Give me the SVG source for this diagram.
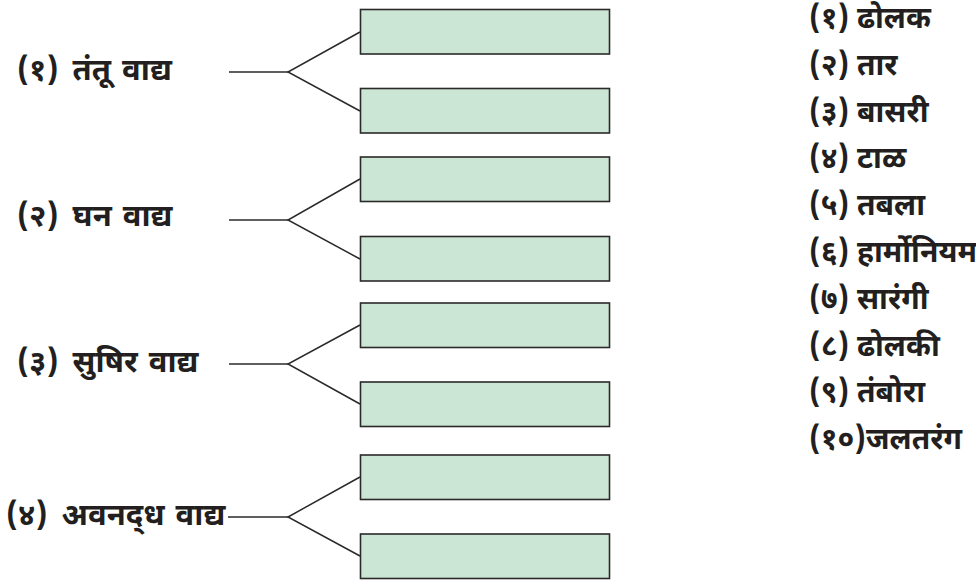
<svg xmlns="http://www.w3.org/2000/svg" width="976" height="581" viewBox="0 0 976 581">
<style>
.box{fill:#cce6d5;stroke:#2a2a2a;stroke-width:1.6}
.ln{fill:none;stroke:#2a2a2a;stroke-width:1.5}
.t{font-family:"Noto Sans Devanagari","Noto Sans","Liberation Sans",sans-serif;font-weight:bold;font-size:30px;fill:#231f20}
.lb{font-size:31px;word-spacing:3px}
</style>
<rect width="976" height="581" fill="#ffffff"/>
<g id="connectors">
<polyline class="ln" points="229,72 288,72"/><polyline class="ln" points="360,32 288,72 360,111"/>
<polyline class="ln" points="229,220 288,220"/><polyline class="ln" points="360,179 288,220 360,259"/>
<polyline class="ln" points="229,364 288,364"/><polyline class="ln" points="360,325 288,364 360,404"/>
<polyline class="ln" points="228,517 288,517"/><polyline class="ln" points="360,477 288,517 360,556"/>
</g>
<g id="label1"><text class="t lb" x="17" y="80">(१) <tspan dx="3">तंतू वाद्य</tspan></text></g>
<g id="label2"><text class="t lb" x="17" y="226">(२) <tspan dx="3">घन वाद्य</tspan></text></g>
<g id="label3"><text class="t lb" x="17" y="372">(३) <tspan dx="3">सुषिर वाद्य</tspan></text></g>
<g id="label4"><text class="t lb" x="6" y="525">(४) <tspan dx="3">अवनद्&#x200C;ध वाद्य</tspan></text></g>
<g id="box1"><rect class="box" x="360.5" y="9.5" width="249" height="44.5"/></g>
<g id="box2"><rect class="box" x="360.5" y="88.5" width="249" height="44.5"/></g>
<g id="box3"><rect class="box" x="360.5" y="157" width="249" height="44.5"/></g>
<g id="box4"><rect class="box" x="360.5" y="236.5" width="249" height="44.5"/></g>
<g id="box5"><rect class="box" x="360.5" y="303" width="249" height="44.5"/></g>
<g id="box6"><rect class="box" x="360.5" y="382" width="249" height="44.5"/></g>
<g id="box7"><rect class="box" x="360.5" y="455" width="249" height="44.5"/></g>
<g id="box8"><rect class="box" x="360.5" y="534" width="249" height="44.5"/></g>
<g id="list">
<text class="t" x="809" y="28">(१) ढोलक</text>
<text class="t" x="809" y="75">(२) तार</text>
<text class="t" x="809" y="122">(३) बासरी</text>
<text class="t" x="809" y="168">(४) टाळ</text>
<text class="t" x="809" y="215">(५) तबला</text>
<text class="t" x="809" y="262">(६) हार्मोनियम</text>
<text class="t" x="809" y="309">(७) सारंगी</text>
<text class="t" x="809" y="356">(८) ढोलकी</text>
<text class="t" x="809" y="402">(९) तंबोरा</text>
<text class="t" x="809" y="449">(१०)जलतरंग</text>
</g>
</svg>
